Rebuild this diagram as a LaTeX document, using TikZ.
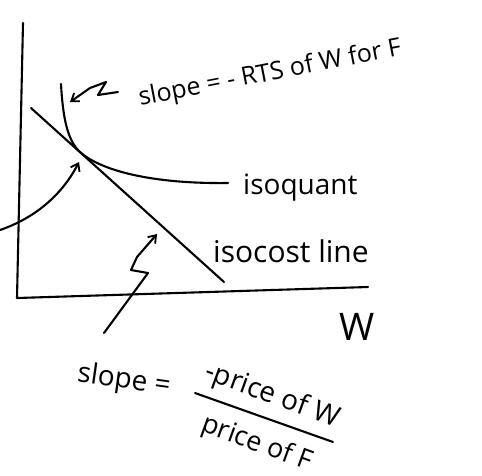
\documentclass[tikz,border=0pt]{standalone}
\usepackage{fontspec}
\setmainfont{Open Sans}
\usetikzlibrary{arrows.meta}
\begin{document}
\begin{tikzpicture}[x=1pt,y=-1pt,
  pen/.style={line width=2.1pt, line cap=round, line join=round},
  tip/.style={-{Straight Barb[length=7pt,width=10pt,line width=1.8pt]}},
  lbl/.style={inner sep=0pt, font=\fontsize{28}{30}\selectfont}]
\useasboundingbox (0,0) rectangle (482,475);
% axes
\coordinate (ytop) at (23,23);
\coordinate (orig) at (17,298);
\coordinate (xend) at (368,287);
\draw[pen] (ytop) -- (orig) -- (xend);
% isocost line
\coordinate (c1) at (31,108);
\coordinate (c2) at (224,282);
\draw[pen] (c1) -- (c2);
% isoquant
\coordinate (q1) at (61,84);
\coordinate (T) at (80,152);
\coordinate (q2) at (228,183);
\draw[pen] (q1) .. controls (63,120) and (68,141) .. (T) .. controls (100,170) and (150,184) .. (q2);
% labels
\node[lbl, anchor=west] (iq) at (243,188) {isoquant};
\node[lbl, anchor=west, font=\fontsize{30}{32}\selectfont] (ic) at (213,251) {isocost line};
\node[lbl, font=\fontsize{38}{40}\selectfont] (W) at (357,327) {W};
\node[lbl, rotate=11, font=\fontsize{25}{27}\selectfont] (rts) at (270,74) {slope = - RTS of W for F};
\node[lbl, rotate=-8] (sl) at (124,381) {slope =};
% fraction
\coordinate (f1) at (195,393);
\coordinate (f2) at (333,442);
\draw[pen] (f1) -- (f2);
\node[lbl, rotate=-20] (num) at (272,396) {-price of W};
\node[lbl, rotate=-20, font=\fontsize{27}{29}\selectfont] (den) at (257,444) {price of F};
% arrows
\coordinate (a1) at (118,92);
\coordinate (a2) at (70,102);
\draw[pen,tip] (a1) -- (98,95) -- (106,82) -- (90,88) -- (a2);
\coordinate (l0) at (0,230);
\coordinate (l1) at (79,162);
\draw[pen,tip] (l0) .. controls (35,218) and (62,195) .. (l1);
\coordinate (b0) at (104,333);
\coordinate (b1) at (157,234);
\draw[pen,tip] (b0) -- (148,273) -- (131,270) -- (137,257) -- (b1);
\end{tikzpicture}
\end{document}
